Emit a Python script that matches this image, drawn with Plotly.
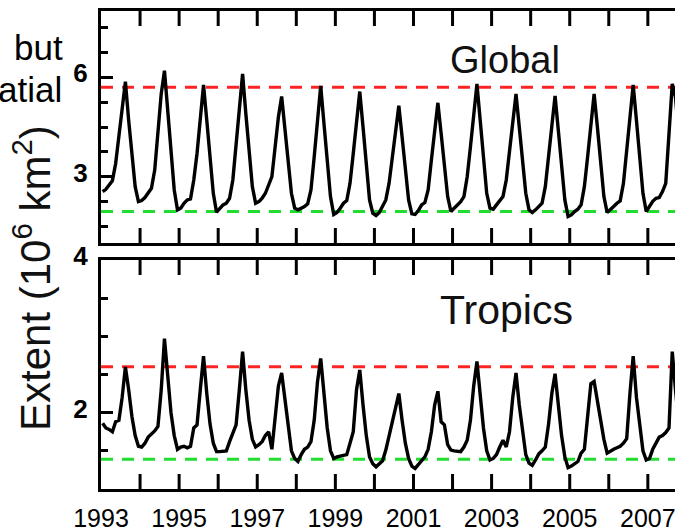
import plotly.graph_objects as go

# ---- data -------------------------------------------------------------
years = list(range(1993, 2008))

# Monthly inundated extent (10^6 km^2), Jan..Dec for each year 1993-2007
global_extent = [
    2.55, 2.62, 2.75, 2.88, 3.40, 4.20, 5.10, 5.87, 4.70, 3.60, 2.70, 2.25,  # 1993
    2.28, 2.37, 2.50, 2.65, 3.20, 4.30, 5.50, 6.20, 5.00, 3.70, 2.60, 2.00,  # 1994
    2.05, 2.20, 2.30, 2.33, 2.90, 3.70, 4.70, 5.77, 4.70, 3.50, 2.50, 1.93,  # 1995
    2.05, 2.15, 2.20, 2.35, 2.90, 4.00, 5.20, 6.10, 4.90, 3.70, 2.70, 2.20,  # 1996
    2.25, 2.35, 2.50, 2.75, 3.00, 3.90, 4.80, 5.42, 4.40, 3.40, 2.50, 2.05,  # 1997
    2.00, 2.05, 2.10, 2.18, 2.60, 3.60, 4.80, 5.74, 4.60, 3.40, 2.40, 1.86,  # 1998
    1.92, 2.05, 2.20, 2.28, 2.80, 3.70, 4.70, 5.57, 4.50, 3.30, 2.30, 1.90,  # 1999
    1.83, 1.92, 2.10, 2.30, 2.80, 3.60, 4.50, 5.14, 4.20, 3.20, 2.30, 1.88,  # 2000
    1.86, 1.98, 2.15, 2.22, 2.60, 3.50, 4.40, 5.23, 4.30, 3.30, 2.40, 1.95,  # 2001
    2.05, 2.15, 2.25, 2.40, 3.00, 3.90, 4.90, 5.80, 4.70, 3.50, 2.50, 2.05,  # 2002
    2.02, 2.15, 2.28, 2.40, 2.90, 3.80, 4.70, 5.50, 4.50, 3.40, 2.50, 2.00,  # 2003
    1.92, 2.00, 2.10, 2.20, 2.70, 3.60, 4.60, 5.44, 4.40, 3.30, 2.30, 1.80,  # 2004
    1.85, 1.95, 2.02, 2.15, 2.70, 3.60, 4.60, 5.50, 4.50, 3.40, 2.40, 1.92,  # 2005
    2.00, 2.10, 2.20, 2.27, 2.80, 3.80, 4.90, 5.77, 4.70, 3.50, 2.50, 1.95,  # 2006
    2.10, 2.26, 2.35, 2.37, 2.55, 2.80, 4.30, 5.80, 5.40, 4.20, 3.00, 2.20,  # 2007
]

tropics_extent = [
    1.86, 1.80, 1.78, 1.75, 1.88, 1.90, 2.20, 2.60, 2.30, 1.95, 1.70, 1.56,  # 1993
    1.55, 1.60, 1.68, 1.72, 1.76, 1.82, 2.30, 2.97, 2.45, 2.00, 1.70, 1.52,  # 1994
    1.55, 1.56, 1.54, 1.56, 1.80, 1.84, 2.30, 2.74, 2.25, 1.85, 1.60, 1.49,  # 1995
    1.49, 1.49, 1.50, 1.62, 1.74, 1.84, 2.30, 2.80, 2.30, 1.90, 1.65, 1.55,  # 1996
    1.58, 1.62, 1.70, 1.75, 1.52, 1.95, 2.35, 2.52, 2.15, 1.80, 1.50, 1.40,  # 1997
    1.36, 1.45, 1.52, 1.55, 1.62, 1.90, 2.40, 2.71, 2.20, 1.80, 1.50, 1.40,  # 1998
    1.42, 1.43, 1.43, 1.45, 1.60, 1.75, 2.30, 2.56, 2.10, 1.70, 1.42, 1.33,  # 1999
    1.29, 1.33, 1.37, 1.51, 1.70, 1.88, 2.05, 2.25, 1.90, 1.60, 1.40, 1.30,  # 2000
    1.27, 1.32, 1.36, 1.42, 1.52, 1.75, 2.10, 2.28, 1.88, 1.84, 1.58, 1.51,  # 2001
    1.50, 1.49, 1.49, 1.55, 1.64, 1.90, 2.35, 2.67, 2.20, 1.80, 1.50, 1.38,  # 2002
    1.40, 1.45, 1.55, 1.64, 1.55, 1.75, 2.20, 2.52, 2.10, 1.75, 1.45, 1.34,  # 2003
    1.31, 1.38, 1.46, 1.50, 1.55, 1.85, 2.25, 2.51, 2.10, 1.70, 1.42, 1.28,  # 2004
    1.30, 1.33, 1.36, 1.47, 1.52, 1.95, 2.38, 2.41, 2.15, 1.90, 1.65, 1.47,  # 2005
    1.50, 1.52, 1.54, 1.56, 1.60, 1.66, 2.25, 2.74, 2.20, 1.80, 1.50, 1.38,  # 2006
    1.40, 1.52, 1.60, 1.68, 1.70, 1.74, 1.80, 2.80, 2.30, 1.85, 1.55, 1.45,  # 2007
]

# mean annual maximum / minimum levels
global_levels = {"max": 5.70, "min": 1.95}
tropics_levels = {"max": 2.60, "min": 1.39}

# y-axis ranges of the two panels
global_range = [1, 8]
tropics_range = [1, 4]

label_years = [1993, 1995, 1997, 1999, 2001, 2003, 2005, 2007]
label_text = ["1993", "1995", "1997", "1999", "2001", "2003", "2005", "2007"]

# mid-month time stamps in decimal years
time = [y + (m + 0.5) / 12 for y in years for m in range(12)]

# ---- figure -----------------------------------------------------------
W, H = 675, 529
FONT = "Liberation Sans, Arial, sans-serif"
RED = "#ff2424"
GREEN = "#22dd30"
TICK_LEN_PX = 15

# plot-frame edges in pixels
LEFT_PX = 101
TOP_PANEL_PX = (11, 243)
BOT_PANEL_PX = (260, 489)

x_dom = [LEFT_PX / W, 1.0]
x_range = [1993.0, 1993.0 + (W - LEFT_PX) / 39.06]
top_dom = [1 - TOP_PANEL_PX[1] / H, 1 - TOP_PANEL_PX[0] / H]
bot_dom = [1 - BOT_PANEL_PX[1] / H, 1 - BOT_PANEL_PX[0] / H]

fig = go.Figure()
fig.add_trace(go.Scatter(x=time, y=global_extent, mode="lines",
                         line=dict(color="black", width=3.4),
                         xaxis="x", yaxis="y", showlegend=False))
fig.add_trace(go.Scatter(x=time, y=tropics_extent, mode="lines",
                         line=dict(color="black", width=3.4),
                         xaxis="x2", yaxis="y2", showlegend=False))


def year_ticks(yrange, panel_px):
    """Inward yearly tick marks on the bottom and top edges of a panel."""
    span = yrange[1] - yrange[0]
    d = TICK_LEN_PX * span / (panel_px[1] - panel_px[0])
    xs, ys = [], []
    for yv in years[1:]:
        xs += [yv, yv, None, yv, yv, None]
        ys += [yrange[0], yrange[0] + d, None, yrange[1], yrange[1] - d, None]
    return xs, ys


for xa, ya, yrange, ppx in (("x", "y", global_range, TOP_PANEL_PX),
                            ("x2", "y2", tropics_range, BOT_PANEL_PX)):
    tx, ty = year_ticks(yrange, ppx)
    fig.add_trace(go.Scatter(x=tx, y=ty, mode="lines", hoverinfo="skip",
                             line=dict(color="black", width=3),
                             xaxis=xa, yaxis=ya, showlegend=False))

for xref, yref, levels in (("x", "y", global_levels), ("x2", "y2", tropics_levels)):
    for key, col in (("max", RED), ("min", GREEN)):
        fig.add_shape(type="line", xref=xref + " domain", x0=0, x1=1,
                      yref=yref, y0=levels[key], y1=levels[key],
                      layer="below",
                      line=dict(color=col, width=3, dash="12px,9px"))

x_common = dict(domain=x_dom, range=x_range, type="linear",
                tickmode="array", tickvals=label_years, ticktext=label_text,
                ticks="", showline=True, linewidth=3, linecolor="black",
                mirror=True, showgrid=False, zeroline=False, automargin=False)
y_common = dict(ticks="inside", tickwidth=3, tickcolor="black", ticklen=12,
                showline=True, linewidth=3, linecolor="black", mirror=False,
                showgrid=False, zeroline=False, automargin=False,
                tickfont=dict(family=FONT, size=26, color="black", weight="bold"),
                ticklabelstandoff=5, ticklabelshift=-4)

fig.update_layout(
    width=W, height=H,
    margin=dict(l=0, r=0, t=0, b=0, pad=0, autoexpand=False),
    paper_bgcolor="white", plot_bgcolor="white",
    xaxis=dict(anchor="y", showticklabels=False, **x_common),
    xaxis2=dict(anchor="y2", showticklabels=True,
                tickfont=dict(family=FONT, size=25, color="black"),
                ticklabeloverflow="allow", ticklabelstandoff=5, **x_common),
    yaxis=dict(anchor="x", domain=top_dom, range=global_range, tickvals=[3, 6],
               ticktext=["3", "6"],
               minor=dict(ticks="inside", tick0=0, dtick=0.75, ticklen=7,
                          tickwidth=3, tickcolor="black"),
               **y_common),
    yaxis2=dict(anchor="x2", domain=bot_dom, range=tropics_range, tickvals=[2, 4],
                ticktext=["2", "4"], ticklabeloverflow="allow",
                minor=dict(ticks="inside", tick0=0, dtick=0.5, ticklen=7,
                           tickwidth=3, tickcolor="black"),
                **y_common),
)

ann_font = dict(family=FONT, color="#111111")
fig.add_annotation(text="Global", xref="paper", yref="paper",
                   x=505 / W, y=1 - 60 / H, xanchor="center", yanchor="middle",
                   showarrow=False, font=dict(size=38, **ann_font))
fig.add_annotation(text="Tropics", xref="paper", yref="paper",
                   x=507 / W, y=1 - 310 / H, xanchor="center", yanchor="middle",
                   showarrow=False, font=dict(size=41, **ann_font))
fig.add_annotation(text="Extent (10<sup>6</sup> km<sup>2</sup>)",
                   xref="paper", yref="paper", x=32 / W, y=1 - 278 / H,
                   xanchor="center", yanchor="middle", textangle=-90,
                   showarrow=False, font=dict(size=42, **ann_font))
fig.add_annotation(text="but", xref="paper", yref="paper",
                   x=65 / W, y=1 - 48 / H, xanchor="right", yanchor="middle",
                   showarrow=False, font=dict(family=FONT, size=35, color="black"))
fig.add_annotation(text="atial", xref="paper", yref="paper",
                   x=64 / W, y=1 - 89 / H, xanchor="right", yanchor="middle",
                   showarrow=False, font=dict(family=FONT, size=35, color="black"))

fig.write_html("out.html")
